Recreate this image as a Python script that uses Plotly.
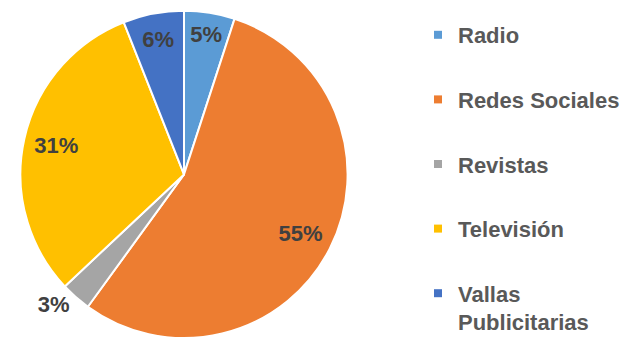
import plotly.graph_objects as go

categories = ["Radio", "Redes Sociales", "Revistas", "Televisión", "Vallas Publicitarias"]
legend_labels = ["Radio", "Redes Sociales", "Revistas", "Televisión", "Vallas<br>Publicitarias"]
values = [5, 55, 3, 31, 6]
colors = ["#5B9BD5", "#ED7D31", "#A5A5A5", "#FFC000", "#4472C4"]
text_positions = ["inside", "inside", "outside", "inside", "inside"]

W, H = 642, 343
R = 166
domain = dict(x=[(184 - R) / W, (184 + R) / W], y=[0, 1 - 11 / H])
fig = go.Figure()

# Base pie (slices)
fig.add_trace(go.Pie(
    labels=categories,
    values=values,
    sort=False,
    direction="clockwise",
    rotation=0,
    marker=dict(colors=colors, line=dict(color="white", width=2)),
    textinfo="none",
    domain=domain,
    showlegend=False,
    hoverinfo="label+percent",
))

# Label layer: same data, ring so labels sit toward the outer edge
fig.add_trace(go.Pie(
    labels=categories,
    values=values,
    sort=False,
    direction="clockwise",
    rotation=0,
    hole=0.6,
    marker=dict(colors=["rgba(0,0,0,0)"] * len(values), line=dict(width=0)),
    texttemplate="%{percent:.0%}",
    textposition=text_positions,
    insidetextorientation="horizontal",
    textfont=dict(family="Liberation Sans, Arial, sans-serif", size=22, color="#404040", weight="bold"),
    domain=domain,
    showlegend=False,
    hoverinfo="skip",
))

for lab, col, cat in zip(legend_labels, colors, categories):
    fig.add_trace(go.Scatter(
        x=[None], y=[None], mode="markers", name=lab,
        marker=dict(symbol="square", size=8, color=col),
        legendgroup=cat, showlegend=True, hoverinfo="skip",
    ))

fig.update_layout(
    width=W, height=H,
    margin=dict(l=0, r=0, t=0, b=0),
    paper_bgcolor="white", plot_bgcolor="white",
    xaxis=dict(visible=False), yaxis=dict(visible=False),
    uniformtext=dict(minsize=22, mode="show"),
    legend=dict(
        x=418 / W, y=1 - 22 / H, xanchor="left", yanchor="top",
        font=dict(family="Liberation Sans, Arial, sans-serif", size=22, color="#595959", weight="bold"),
        tracegroupgap=33, valign="top", bgcolor="rgba(0,0,0,0)",
    ),
)

fig.write_html("out.html")
